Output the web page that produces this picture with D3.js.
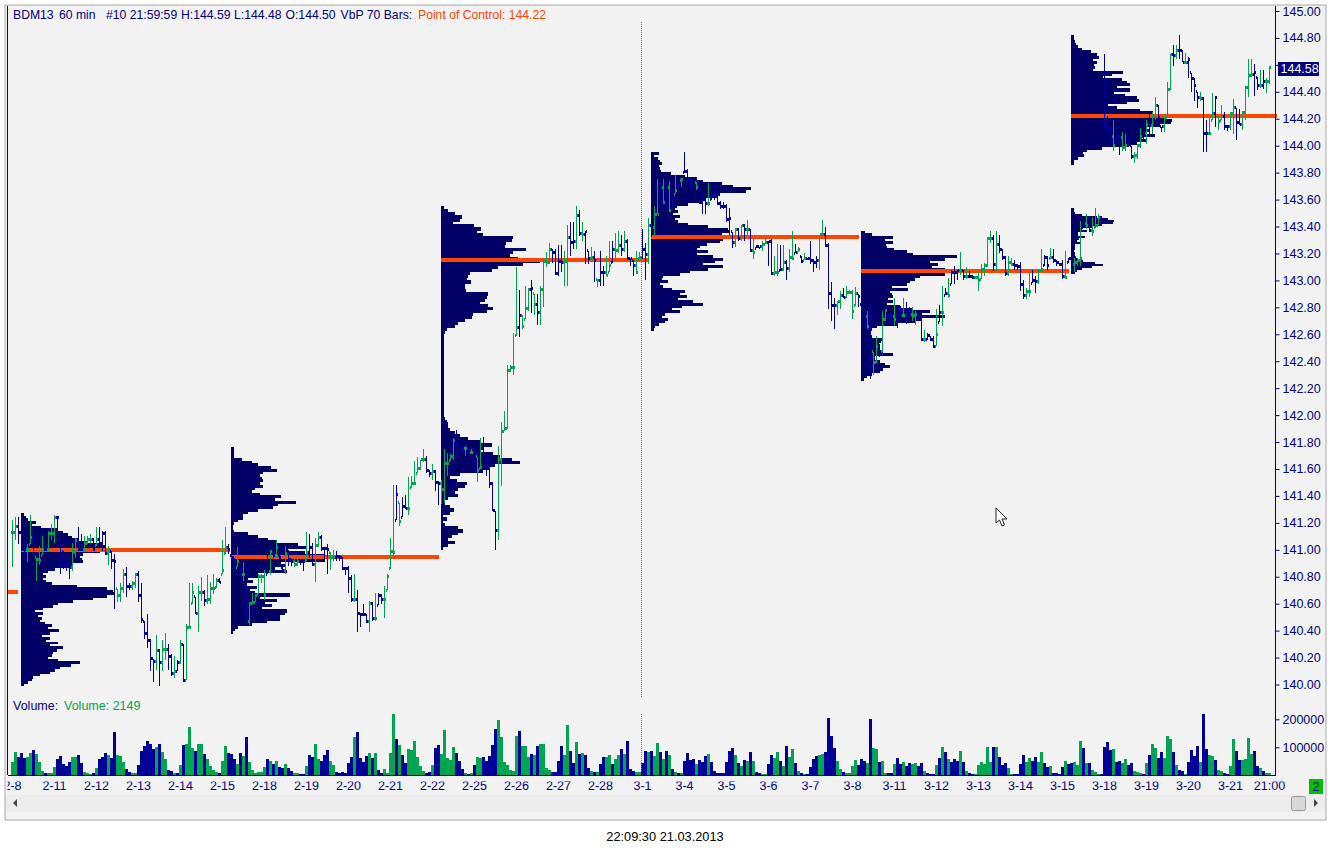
<!DOCTYPE html>
<meta charset="utf-8">
<style>
html, body { margin: 0; padding: 0; background: #fff; }
svg { display: block; }
text { font: 12.5px "Liberation Sans", Arial, sans-serif; }
.axis text { fill: #000080; font-size: 12.5px; }
.axis path, .axis line { stroke: #000080; }
</style>
<svg id="mysvg" width="1330" height="854"></svg>
<script src="https://d3js.org/d3.v7.min.js"></script>
<script>

// prices are hundredths above 140.00
var barHigh = [
122,124,124,113,107,104,126,113,94,103, 110,107,114,119,126,125,105,99,96,96,
105,109,117,112,110,110,112,109,117,117, 114,114,103,99,97,71,75,86,87,75,
77,83,84,75,47,52,34,19,37,26, 33,38,30,23,21,18,33,30,45,75,
75,65,73,80,70,81,76,82,79,79, 107,117,104,96,94,102,87,91,75,61,
68,67,82,82,85,96,100,99,107,96, 87,103,100,93,93,93,93,92,113,112,
105,109,113,111,102,104,98,100,99,96, 95,87,88,81,82,70,53,60,52,62,
61,68,68,67,73,82,109,148,148,135, 139,141,154,155,166,169,167,175,170,159,
164,159,151,152,175,172,171,183,189,181, 177,177,174,175,174,169,183,184,171,169,
150,129,177,195,203,237,237,261,310,293, 274,296,294,300,290,290,296,315,321,328,
323,323,326,326,322,341,343,343,355,352, 343,337,322,325,322,301,322,311,318,329,
329,335,337,334,337,331,317,315,322,321, 338,328,346,342,355,375,373,375,370,374,
365,378,375,376,395,383,376,373,373,372, 365,364,372,369,370,362,359,358,357,354,
336,339,339,341,342,345,338,331,326,325, 329,332,329,331,318,327,326,326,315,323,
337,327,325,318,320,317,329,316,318,334, 345,340,328,299,287,285,292,294,296,293,
293,295,290,282,276,277,282,247,259,253, 277,279,275,274,287,282,281,287,284,280,
280,277,276,271,263,261,259,259,279,282, 296,294,302,308,311,308,321,308,310,307,
304,303,306,312,313,332,337,334,337,334, 323,318,318,317,315,312,314,300,294,306,
308,303,308,323,319,318,324,323,315,313, 315,322,317,316,317,317,344,346,349,342,
347,354,349,348,468,422,414,419,409,410, 410,409,406,400,395,401,413,414,419,424,
425,436,430,414,422,447,468,475,475,482, 471,469,466,454,450,440,440,436,419,422,
439,437,422,430,425,415,425,435,428,427, 426,444,464,464,461,451,456,456,450,459];
var barLow = [
87,107,104,99,96,91,104,99,77,89, 96,99,99,107,105,102,82,86,84,78,
84,94,99,99,99,104,105,99,103,102, 99,96,89,86,56,61,61,68,65,70,
70,72,61,46,34,27,10,2,11,-1, 10,18,11,6,5,10,15,2,3,42,
60,52,39,62,58,60,60,67,72,75, 82,97,97,88,82,87,79,77,45,44,
60,61,67,75,63,82,81,94,94,88, 83,82,88,88,87,88,89,84,92,94,
88,76,102,99,93,82,85,92,92,92, 85,81,68,61,61,39,43,51,46,39,
47,47,59,60,49,70,86,94,122,118, 124,130,126,146,148,157,159,165,157,154,
152,144,133,134,135,155,166,167,170,169, 171,170,171,171,159,150,160,169,155,146,
129,100,107,147,188,190,232,230,259,258, 264,271,277,276,274,267,267,280,310,312,
313,304,303,306,296,296,318,323,323,333, 329,312,312,315,299,295,296,296,303,306,
313,317,320,318,321,315,311,303,305,316, 316,300,312,332,333,349,355,357,352,351,
354,364,369,369,380,367,367,360,367,357, 349,349,355,360,360,356,353,353,343,334,
324,325,329,329,329,333,321,316,324,323, 322,327,311,304,303,303,307,307,300,306,
315,320,321,313,315,315,312,306,309,308, 333,325,279,270,264,274,279,287,287,290,
271,281,280,265,265,264,227,230,239,243, 247,270,266,269,266,265,273,273,268,271,
270,267,273,255,254,256,255,250,251,269, 266,289,287,297,297,300,304,300,301,302,
301,301,292,301,303,310,328,307,307,320, 315,303,303,311,308,308,292,286,286,288,
298,291,297,306,311,308,316,313,311,311, 301,301,313,311,306,311,311,339,338,336,
333,339,341,341,412,409,399,396,401,393, 396,396,399,390,387,390,398,404,401,407,
409,419,419,410,410,421,441,459,464,464, 462,461,450,440,433,428,433,395,395,408,
419,414,412,419,412,411,412,409,404,415, 412,419,436,451,437,441,443,442,439,446];
var barClose = [
113,117,113,100,100,100,109,107,93,92, 100,100,112,112,124,124,103,88,88,87,
99,107,100,100,105,108,108,100,108,105, 112,97,99,92,91,66,71,82,73,73,
75,82,66,48,38,33,19,17,25,16, 26,26,21,8,10,16,30,3,42,42,
68,53,68,68,62,63,71,71,77,76, 85,102,100,94,86,91,82,82,47,60,
61,66,80,80,66,84,99,96,102,94, 85,97,93,91,89,91,91,91,98,102,
89,103,109,101,101,100,94,94,95,94, 86,86,79,63,63,53,52,52,47,60,
49,49,66,63,63,80,99,98,141,121, 132,131,131,149,149,160,167,167,159,157,
158,150,149,145,164,164,169,181,178,174, 175,175,172,172,171,159,161,178,167,149,
129,114,167,188,190,233,235,235,265,274, 266,279,293,294,282,276,293,314,313,323,
321,305,314,313,314,332,328,329,348,335, 334,336,316,317,315,300,306,306,304,311,
323,322,326,323,329,316,316,311,306,317, 323,319,341,339,349,349,369,358,369,352,
363,367,374,375,381,375,375,373,369,358, 360,357,357,363,362,357,355,355,345,346,
328,338,331,341,338,338,322,321,325,325, 327,328,329,305,306,306,308,313,309,317,
316,321,323,314,316,316,315,313,315,334, 334,326,290,281,281,284,289,287,291,291,
277,290,288,273,273,266,273,239,251,245, 271,278,274,273,271,279,274,274,277,275,
274,275,274,256,256,259,256,251,260,276, 276,290,289,306,306,307,307,303,303,303,
302,302,300,308,311,331,331,312,327,323, 317,305,313,312,311,310,297,289,292,292,
300,299,307,308,317,311,317,315,313,312, 303,302,316,312,313,315,316,342,341,337,
336,341,347,345,414,412,407,400,406,406, 399,400,401,392,393,400,407,409,416,415,
422,430,421,414,421,442,468,467,471,471, 462,462,464,450,445,436,435,409,409,409,
424,436,418,422,414,414,424,428,417,416, 425,443,452,453,454,445,445,448,448,458];

// G up, B down, shared by the bars and the volume
var barDir = (
"GGBBBGGBGG GBGGGBBBBB GGBBGGGBGB BBGBBGGGBB GGBBBBBBGB GGBBGBGBGG GBGGBGGGGB GGBBBGBGBG GGGGGBGBGB BGBBGGBBGB" +
"BGGBBBGGBB BBBBGBBBBG BGBBGGGGBG BBGGGGGGBB GBBGGGGGBB BGBGBGGBBB BBGGGGGGGB GGGBGBGGGG BBBBGGBBGB GBBGBGBBGG" +
"BGGBGBBBGG BBGBGGBGBG BGBGBBBBGB BBGBBBBBBB BGBGBGBGBB GGBBGGBGBG GBGBGBBBBG GBBBBGGBGG GGBBBGBGGB GGBBGBBGBB" +
"GGBBGBBBGB GBGBBBGBGB BGGGGGGBGB BBGGBBBBGG BBGGBBGBBB BGBBGGGBGB GGGBBBBGBB GGBBGGGBGB GGBBGGGBGB BGBBBBGBBG" +
"GBGGBBGGBB GGGGBBGBGG").replace(/ /g, "").split("");

// thousands of contracts
var volume = [
48,83,65,80,63,65,80,90,76,48, 15,8,8,8,30,58,69,40,33,48,
65,65,73,44,12,8,4,8,26,58, 65,80,73,62,155,73,69,48,23,12,
8,8,37,87,105,123,112,94,101,112, 83,58,19,15,8,8,37,108,112,173,
98,87,112,112,76,58,33,19,12,8, 51,105,80,76,58,40,80,69,137,48,
19,8,12,12,30,58,51,40,51,30, 26,40,26,15,8,8,4,4,32,71,
64,111,57,50,71,89,50,36,11,7, 11,7,43,64,136,154,61,46,68,79,
61,79,18,7,21,7,79,218,129,107, 71,43,93,89,121,64,32,14,7,11,
36,96,107,75,161,61,54,100,79,50, 21,7,4,7,36,64,61,64,50,68,
107,164,196,136,46,36,18,14,139,157, 104,104,64,75,71,104,111,111,25,18,
11,11,50,104,71,179,86,43,118,75, 79,71,25,14,11,11,39,64,64,71,
39,57,71,93,75,121,21,14,11,11, 43,86,82,86,68,114,82,57,86,71,
21,11,7,7,50,79,54,57,39,54, 46,68,75,46,14,7,7,7,46,86,
96,71,43,32,54,50,82,50,11,7, 4,4,39,71,61,82,50,32,104,64,
93,43,14,7,4,4,29,57,68,71, 75,82,203,139,96,50,21,11,7,7,
32,54,36,57,50,43,200,96,93,46, 50,7,7,7,39,61,39,46,32,43,
39,43,32,43,14,7,4,4,36,61, 100,82,57,46,57,50,86,46,14,7,
4,4,36,46,39,100,46,100,100,64, 36,43,25,4,4,4,39,71,46,61,
50,64,46,82,43,29,32,7,7,4, 29,50,39,43,46,36,121,96,43,43,
18,11,4,4,100,118,89,93,46,50, 43,57,36,43,14,11,7,4,43,71,
111,96,61,82,61,139,129,82,36,18, 14,6,46,89,68,104,46,218,93,71,
68,54,18,14,7,6,32,129,86,54, 54,57,132,75,86,32,25,14,7,7];

var dayLabels = ["2-8","2-11","2-12","2-13","2-14","2-15","2-18","2-19","2-20","2-21","2-22","2-25","2-26","2-27","2-28","3-1",
  "3-4","3-5","3-6","3-7","3-8","3-11","3-12","3-13","3-14","3-15","3-18","3-19","3-20","3-21"];
var priceTicks = d3.range(0, 26).map(function(d) { return 140 + d * 0.2; });
var volumeTicks = [100, 200];

// volume at price, top row first
var profile1 = [3,5,7,15,11,20,36,42,47,51,57,66,79,84,103,79,62,59,61,62,51,49,34,27,22,25,22,25,31,56,86,92,94,86,72,52,37,32,22,14,22,17,21,19,24,31,27,38,29,21,29,25,37,29,42,36,32,31,27,37,59,50,39,34,29,19,12,11,7,3];
var profile2 = [3,3,3,3,11,21,27,40,46,32,29,31,32,29,32,24,21,29,50,44,65,47,42,27,17,12,12,7,3,2,2,3,17,27,37,46,67,76,57,74,94,94,94,50,54,44,56,27,32,17,22,16,26,19,24,59,29,46,34,41,31,56,54,49,49,36,21,7,4,2];
var profile3 = [3,7,14,21,19,12,33,40,36,42,72,71,65,64,85,72,69,77,99,82,57,51,29,27,26,30,24,24,25,47,46,44,39,47,52,46,32,31,24,17,14,6,4,3,
  3,3,3,3,3,3,3,3,3,3,3,3,3,3,3,3,3,3,3,3,3,3,3,3,3,3,3,
  4,6,7,7,9,14,19,27,39,51,42,39,52,59,71,79,54,49,42,19,9,16,26,24,17,14,17,7,4,4,9,13,9,2,6,2,4,17,22,17,11,7,14,7,2];
var profile4 = [8,3,7,9,11,8,9,10,20,34,46,52,71,82,100,95,69,67,54,49,37,26,24,27,22,29,24,27,37,57,77,79,71,91,72,69,56,49,46,57,46,62,72,64,52,72,57,39,29,12,11,17,9,12,21,34,29,36,27,42,52,31,21,29,14,11,17,14,8,4,3];
var profile5 = [4,11,32,24,32,25,26,33,46,52,96,84,69,77,71,84,82,84,59,54,49,46,31,47,29,31,32,27,32,26,39,52,69,61,84,61,54,37,16,11,10,10,11,21,20,18,17,18,22,32,14,14,19,24,29,22,19,11,6,3];
var profile6 = [3,3,4,11,26,37,43,42,31,21,11,16,7,7,14,8,6,9,4,4,4,3,4,4,5,7,12,24,32,21,11,6,4];
var profile7 = [3,3,4,5,7,11,20,26,28,22,26,23,24,22,52,41,32,51,56,59,46,59,43,54,66,68,56,37,46,69,82,86,96,101,100,89,76,79,72,84,71,76,66,54,31,16,12,13,7,3,3];
var profileRows = [profile1, profile2, profile3, profile4, profile5, profile6, profile7];
var profileStart = [3, 73, 143, 213, 283, 353, 353];
var profileTop = [127, 176, 355, 395, 337, 354, 482];
var profileBottom = [-1, 38, 100, 263, 226, 305, 386];
var pocPrice = [100, 95, 315, 332, 307, null, 422];
var pocEnd = [72.5, 142, 212, 282, 352, null, 421.5];

var svg = d3.select("#mysvg");
var navy = "#000066", blue = "#000099", green = "#00a551", orange = "#ff4500";

function px(c) { return y(140 + c / 100); }

var x = d3.scaleLinear().domain([0, 419]).range([12.5, 1269.5]);
var y = d3.scaleLinear().domain([140, 145]).range([684.5, 11]);
var yVol = d3.scaleLinear().domain([0, 200]).range([775.3, 719.3]);
var profWidth = d3.scaleLinear().domain([0, 100]).range([0, 100]);

// window frame
svg.append("rect").attr("x", 5).attr("y", 5).attr("width", 1321).attr("height", 815).attr("fill", "#f2f2f2").attr("stroke", "#a8a8a8");
svg.append("line").attr("x1", 7.5).attr("x2", 7.5).attr("y1", 6).attr("y2", 775).attr("stroke", "#000080");
svg.append("rect").attr("x", 6).attr("y", 795).attr("width", 1319).attr("height", 17).attr("fill", "#ececec");

svg.append("defs").append("clipPath").attr("id", "frame")
  .append("rect").attr("x", 8).attr("y", 6).attr("width", 1318).attr("height", 790);

var crisp = svg.append("g").attr("shape-rendering", "crispEdges");

// previous point of control stub at the left edge
crisp.append("rect").attr("x", 8).attr("width", 10).attr("y", px(69) - 2).attr("height", 4).attr("fill", orange);

// profiles
profileRows.forEach(function(rows, k) {
  var band = d3.scaleBand().domain(d3.range(rows.length)).range([px(profileTop[k]), px(profileBottom[k])]);
  crisp.append("g").selectAll("rect").data(rows).join("rect")
    .attr("x", x(profileStart[k]) - 0.5)
    .attr("y", function(d, i) { return band(i); })
    .attr("width", function(d) { return profWidth(d); })
    .attr("height", band.bandwidth() + 0.5)
    .attr("fill", navy);
});

// point of control lines
crisp.append("g").selectAll("rect").data(d3.range(7).filter(function(k) { return pocPrice[k] !== null; })).join("rect")
  .attr("x", function(k) { return x(profileStart[k]) - 0.5; })
  .attr("y", function(k) { return px(pocPrice[k]) - 2; })
  .attr("width", function(k) { return x(pocEnd[k]) - x(profileStart[k]) + 0.5; })
  .attr("height", 4)
  .attr("fill", orange);

// price bars: range, open tick on the left (at the previous close), close tick on the right
var bars = crisp.append("g").selectAll("g").data(barHigh).join("g")
  .attr("fill", function(d, i) { return barDir[i] == "G" ? green : blue; });
bars.append("rect")
  .attr("x", function(d, i) { return x(i) - 0.5; })
  .attr("width", 1)
  .attr("y", function(d) { return px(d); })
  .attr("height", function(d, i) { return px(barLow[i]) - px(d); });
bars.append("rect")
  .attr("x", function(d, i) { return x(i) - 1.5; })
  .attr("width", 1)
  .attr("y", function(d, i) {
    var open = i ? Math.min(barHigh[i], Math.max(barLow[i], barClose[i - 1])) : barClose[i];
    return px(open) - 1.5;
  })
  .attr("height", 3);
bars.append("rect")
  .attr("x", function(d, i) { return x(i) + 0.5; })
  .attr("width", 1)
  .attr("y", function(d, i) { return px(barClose[i]) - 1.5; })
  .attr("height", 3);

// volume
crisp.append("g").selectAll("rect").data(volume).join("rect")
  .attr("x", function(d, i) { return x(i) - 1.5; })
  .attr("width", 3)
  .attr("y", function(d) { return yVol(d); })
  .attr("height", function(d) { return yVol(0) - yVol(d); })
  .attr("fill", function(d, i) { return barDir[i] == "G" ? green : blue; });

// session divider
[[22, 697], [714, 772]].forEach(function(s) {
  svg.append("line").attr("x1", 641.5).attr("x2", 641.5).attr("y1", s[0]).attr("y2", s[1])
    .attr("stroke", "#777").attr("stroke-dasharray", "1,1");
});

// axes
var xAxis = d3.axisBottom(x)
  .tickValues(d3.range(dayLabels.length).map(function(d) { return d * 14; }).concat([419]))
  .tickFormat(function(d) { return d == 419 ? "21:00" : dayLabels[d / 14]; })
  .tickSize(4).tickPadding(2).tickSizeOuter(0);
var xg = svg.append("g").attr("class", "axis").attr("clip-path", "url(#frame)")
  .attr("transform", "translate(-0.5,775.5)").call(xAxis);
xg.select(".domain").remove();
svg.append("line").attr("x1", 8).attr("x2", 1276).attr("y1", 775.5).attr("y2", 775.5).attr("stroke", "#000080");

// 144.60 sits under the last price box, so it keeps its tick but not its label
var yAxis = d3.axisRight(y).tickValues(priceTicks)
  .tickFormat(function(d) { return Math.abs(d - 144.6) < 0.01 ? "" : d3.format(".2f")(d); })
  .tickSize(4).tickPadding(3);
var yg = svg.append("g").attr("class", "axis").attr("transform", "translate(1275.5,0)").call(yAxis);
yg.select(".domain").remove();
svg.append("line").attr("x1", 1275.5).attr("x2", 1275.5).attr("y1", 6).attr("y2", 775.5).attr("stroke", "#000080");

var vAxis = d3.axisRight(yVol).tickValues(volumeTicks).tickFormat(function(d) { return d * 1000; }).tickSize(4).tickPadding(3);
var vg = svg.append("g").attr("class", "axis").attr("transform", "translate(1275.5,0)").call(vAxis);
vg.select(".domain").remove();

// last price box
svg.append("rect").attr("x", 1278).attr("y", 62).attr("width", 41).attr("height", 14).attr("fill", "#000080");
svg.append("text").attr("x", 1280.5).attr("y", 73).attr("fill", "#fff").text("144.58");

// header
[["BDM13", 13], ["60 min", 59], ["#10 21:59:59", 106], ["H:144.59", 181], ["L:144.48", 234], ["O:144.50", 285.5], ["VbP 70 Bars:", 340.6]].forEach(function(t) {
  svg.append("text").attr("x", t[1]).attr("y", 19).attr("fill", "#000080").style("font-size", "12.2px").text(t[0]);
});
svg.append("text").attr("x", 418).attr("y", 19).attr("fill", orange).style("font-size", "12.2px").text("Point of Control: 144.22");
svg.append("text").attr("x", 13).attr("y", 710).attr("fill", "#000080").text("Volume:");
svg.append("text").attr("x", 64).attr("y", 710).attr("fill", green).text("Volume: 2149");

// status box, scroll bar, clock
svg.append("rect").attr("x", 1309).attr("y", 779).attr("width", 14).attr("height", 15).attr("fill", "#00c000");
svg.append("text").attr("x", 1316).attr("y", 791).attr("text-anchor", "middle").attr("fill", "#000080").text("2");
svg.append("rect").attr("x", 1291.5).attr("y", 796.5).attr("width", 14).attr("height", 14).attr("rx", 2)
  .attr("fill", "#d8d8d8").attr("stroke", "#999");
svg.append("path").attr("d", "M17,799V807L13,803Z").attr("fill", "#444");
svg.append("path").attr("d", "M1314,799V807L1318,803Z").attr("fill", "#444");
svg.append("text").attr("x", 665).attr("y", 841).attr("text-anchor", "middle").attr("fill", "#000").style("font-size", "12.8px").text("22:09:30 21.03.2013");

// mouse pointer
svg.append("path").attr("d", "M996,508V523L999.5,520L1002,526L1004.5,525L1002,519L1007,519Z")
  .attr("fill", "#fff").attr("stroke", "#222");

</script>
